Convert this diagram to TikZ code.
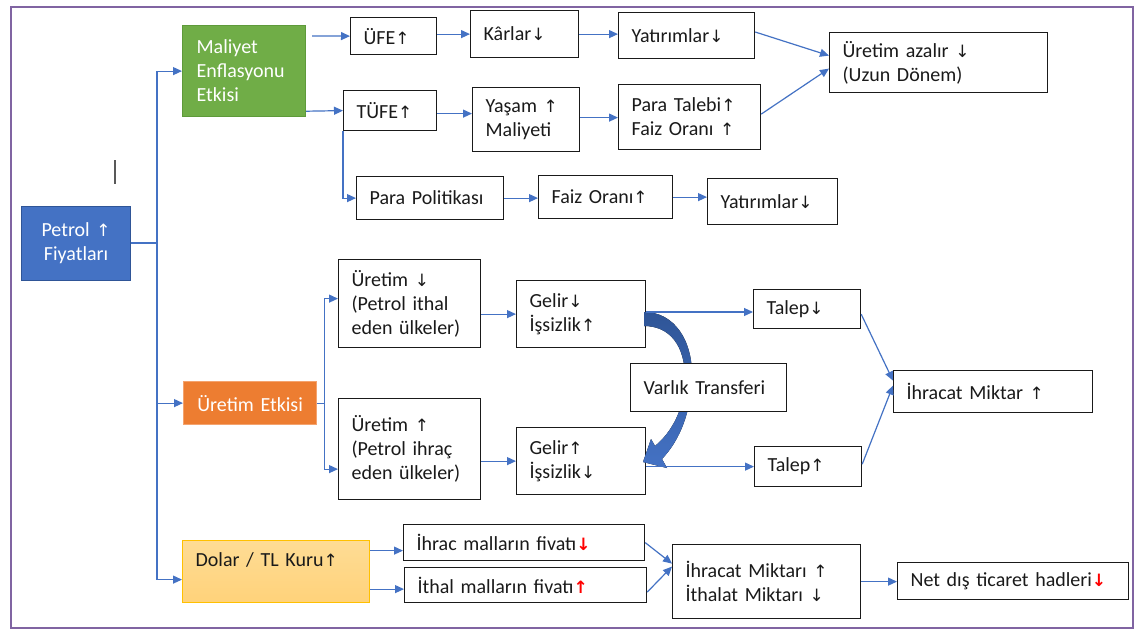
\documentclass[tikz,border=0pt]{standalone}
\usepackage{fontspec}
\setmainfont{Carlito}
\newfontfamily\arrfont{DejaVu Sans}[Scale=0.85]
\newcommand\upa{{\arrfont ↑}}
\newcommand\dna{{\arrfont ↓}}
\newcommand\rupa{{\arrfont\bfseries\color{red}↑}}
\newcommand\rdna{{\arrfont\bfseries\color{red}↓}}
\usetikzlibrary{arrows.meta,calc}
\definecolor{cblue}{HTML}{4472C4}
\definecolor{cblued}{HTML}{2F5597}
\definecolor{cgreen}{HTML}{70AD47}
\definecolor{cgreend}{HTML}{5E9A3A}
\definecolor{corange}{HTML}{ED7D31}
\definecolor{corangel}{HTML}{F4A36E}
\definecolor{cgoldt}{HTML}{FEDC95}
\definecolor{cgoldb}{HTML}{FFD27A}
\definecolor{cgoldd}{HTML}{FFC000}
\definecolor{cframe}{HTML}{8064A2}
\definecolor{ctext}{HTML}{1A1A1A}
\tikzset{
  bx/.style={draw=ctext, line width=1.2pt, fill=white, anchor=north west, inner xsep=13pt, inner ysep=0pt, align=left, text=ctext,
    font=\fontsize{20}{24}\selectfont},
  colbx/.style={anchor=north west, inner xsep=13pt, inner ysep=0pt, text=white, line width=1.2pt, font=\fontsize{20}{24}\selectfont},
  ln/.style={draw=cblue, line width=1.2pt},
  arr/.style={ln, -{Triangle[length=9pt,width=8pt]}},
}
\begin{document}
\begin{tikzpicture}[x=1pt,y=-1pt]
\fill[white] (0,0) rectangle (1135,630);
\useasboundingbox (0,0) rectangle (1135,630);
\draw[cframe, line width=2pt] (11,7) rectangle (1133,628);
\draw[gray!70!black, line width=2pt] (115,160) -- (115,184);

% colored boxes
\node[colbx, fill=cblue, draw=cblued, text width=83pt, minimum height=74pt, align=center] (petrol) at (21,206) {Petrol \upa\\Fiyatları};
\node[colbx, fill=cgreen, draw=cgreend, text width=95pt, inner xsep=14pt, minimum height=91pt, align=left] (mal) at (182,25) {Maliyet\\Enflasyonu\\Etkisi};
\node[colbx, fill=corange, draw=corangel, text width=107pt, minimum height=43pt, align=center] (uret) at (183,381) {Üretim Etkisi};
\node[colbx, top color=cgoldt, bottom color=cgoldb, draw=cgoldd, text=ctext, text width=161pt, minimum height=62pt, align=left] (dolar) at (182,540) {Dolar / TL Kuru\upa\\\mbox{}};

% top branch
\node[bx, text width=60pt, minimum height=37pt] (ufe) at (350,17) {ÜFE\upa};
\node[bx, text width=82pt, minimum height=47pt] (karlar) at (470,10) {Kârlar\dna};
\node[bx, text width=110pt, minimum height=46pt] (yat1) at (618,12) {Yatırımlar\dna};
\node[bx, text width=192pt, minimum height=60pt] (uaz) at (829,32) {Üretim azalır \dna\\(Uzun Dönem)};
\node[bx, text width=67pt, minimum height=40pt] (tufe) at (343,90) {TÜFE\upa};
\node[bx, text width=81pt, inner xsep=13pt, minimum height=64pt] (yasam) at (472,87) {Yaşam \upa\\Maliyeti};
\node[bx, text width=116pt, minimum height=65pt] (para) at (618,84) {Para Talebi\upa\\Faiz Oranı \upa};
\node[bx, text width=121pt, minimum height=43pt] (pp) at (356,176) {Para Politikası};
\node[bx, text width=108pt, minimum height=43pt] (faiz) at (538,175) {Faiz Oranı\upa};
\node[bx, text width=104pt, minimum height=46pt] (yat2) at (707,178) {Yatırımlar\dna};

% middle branch
\node[bx, text width=116pt, minimum height=88pt] (ur1) at (338,259) {Üretim \dna\\(Petrol ithal\\eden ülkeler)};
\node[bx, text width=103pt, minimum height=67pt] (gel1) at (516,280) {Gelir\dna\\İşsizlik\upa};
\node[bx, text width=116pt, minimum height=101pt] (ur2) at (338,398) {Üretim \upa\\(Petrol ihraç\\eden ülkeler)};
\node[bx, text width=103pt, minimum height=67pt] (gel2) at (516,427) {Gelir\upa\\İşsizlik\dna};
\node[bx, text width=81pt, minimum height=39pt] (tal1) at (753,289) {Talep\dna};
\node[bx, text width=81pt, minimum height=40pt] (tal2) at (754,446) {Talep\upa};
\node[bx, text width=173pt, minimum height=42pt] (ihr) at (893,370) {İhracat Miktar \upa};

% curved transfer arrow
\fill[top color=cblued, bottom color=cblue]
  (644,312) .. controls (674,312) and (693,340) .. (692,378)
  .. controls (691,412) and (680,440) .. (662,459)
  -- (667,468) -- (643,462) -- (651,439) -- (655,446)
  .. controls (672,432) and (685,408) .. (685,378)
  .. controls (685,346) and (670,326) .. (644,326) -- cycle;
\node[bx, text width=130pt, minimum height=48pt] (var) at (630,363) {Varlık Transferi};

% bottom branch
\node[bx, text width=215pt, minimum height=36pt] (ihrac) at (403,524) {İhrac malların fivatı\rdna};
\node[bx, text width=216pt, minimum height=35pt] (ithal) at (404,567) {İthal malların fivatı\rupa};
\node[bx, text width=162pt, minimum height=74pt] (ihm) at (672,544) {İhracat Miktarı \upa\\İthalat Miktarı \dna};
\node[bx, text width=205pt, minimum height=37pt] (net) at (897,562) {Net dış ticaret hadleri\rdna};

% connectors
\coordinate (tk) at (157,243);
\draw[ln] (petrol.east |- tk) -- (tk);
\draw[arr] (tk) |- (mal.west);
\draw[arr] (tk) |- (uret.west);
\draw[arr] (tk) |- ([yshift=-8pt]dolar.west);

\draw[arr] ([xshift=6pt,yshift=-11pt]mal.north east) -- (ufe.west);
\draw[arr] ([yshift=6pt]mal.south east) -- (tufe.west);
\draw[arr] ([yshift=2pt]ufe.east) -- (karlar.west);
\draw[arr] (karlar.east) -- (karlar.east -| yat1.west);
\draw[arr] ([yshift=-20pt]yat1.north east) -- ([yshift=7pt]uaz.west);
\draw[arr] ([yshift=3pt]para.east) -- ([yshift=-6pt]uaz.west);
\draw[arr] ([yshift=-3pt]tufe.east) -- ([yshift=-3pt]tufe.east -| yasam.west);
\draw[arr] ([yshift=2pt]yasam.east) -- ([yshift=2pt]yasam.east -| para.west);
\draw[arr] (tufe.south west) |- (pp.west);
\draw[arr] (pp.east) -- (pp.east -| faiz.west);
\draw[arr] (faiz.east) -- (faiz.east -| yat2.west);

\draw[ln] (uret.east) -- ++(7,0) coordinate (ub);
\draw[arr] (ub) |- ([yshift=5pt]ur1.west);
\draw[arr] (ub) |- ([yshift=-20pt]ur2.west);
\draw[arr] (gel1.west -| ur1.east) -- (gel1.west);
\draw[arr] (gel2.west -| ur2.east) -- (gel2.west);
\draw[arr] ([yshift=-32pt]gel1.north east) -- ([yshift=-32pt]gel1.north east -| tal1.west);
\draw[arr] (gel2.east |- tal2.west) -- (tal2.west);
\draw[arr] ([yshift=15pt]tal1.south east) -- ([yshift=11pt]ihr.west);
\draw[arr] ([yshift=23pt]tal2.south east) -- ([yshift=6pt]ihr.west);

\draw[arr] ([yshift=-8pt]ihrac.west -| dolar.east) -- ([yshift=-8pt]ihrac.west);
\draw[arr] ([yshift=-4pt]ithal.west -| dolar.east) -- ([yshift=-4pt]ithal.west);
\draw[arr] (ihrac.east) -- ([yshift=18pt]ihm.west);
\draw[arr] ([yshift=-7pt]ithal.east) -- ([yshift=15pt]ihm.west);
\draw[arr] (ihm.east) -- (ihm.east -| net.west);
\end{tikzpicture}
\end{document}
